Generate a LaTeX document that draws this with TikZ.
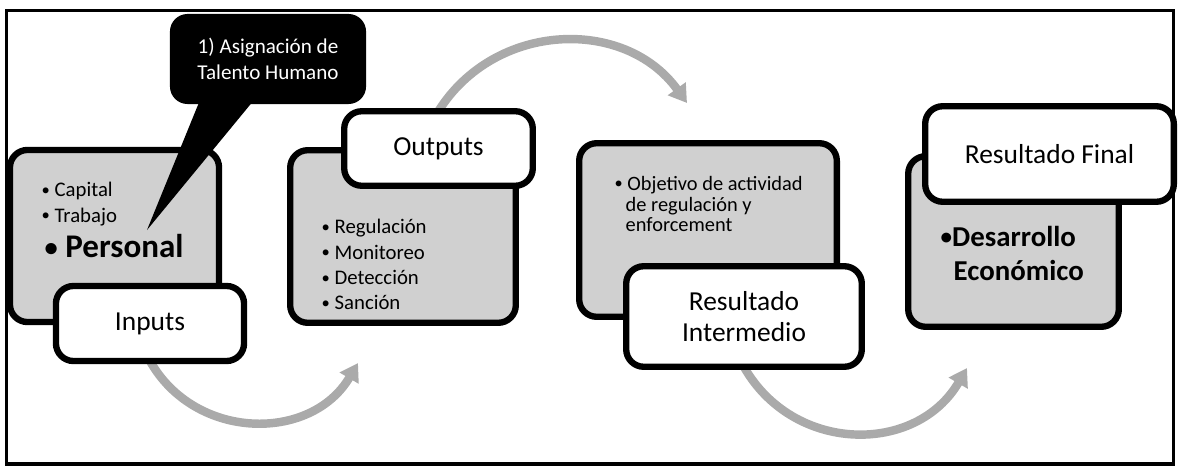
\documentclass[tikz,border=0pt]{standalone}
\usepackage{fontspec}
\setmainfont{Carlito}
\usetikzlibrary{arrows.meta}
\definecolor{boxgray}{RGB}{208,208,208}
\definecolor{arrowgray}{RGB}{170,170,170}
\newcommand{\bulletdot}{{\raisebox{0.06em}{\scalebox{0.8}{\textbullet}}}}
\begin{document}
\begin{tikzpicture}[x=0.01cm, y=-0.01cm,
    graybox/.style={draw, line width=1.8pt, rounded corners=5pt, fill=boxgray, inner sep=0},
    whitebox/.style={draw, line width=1.8pt, rounded corners=5pt, fill=white, align=center, inner sep=0, font=\fontsize{7.8}{9}\selectfont},
    item/.style={anchor=base west, inner sep=0, font=\fontsize{5.9}{7}\selectfont},
    bigitem/.style={anchor=base west, inner sep=0, font=\fontsize{8.2}{9}\selectfont\bfseries},
    flow/.style={color=arrowgray, line width=2.4pt, -{Triangle[width=6pt,length=5pt]}},
    callout/.style={fill=black, text=white, rounded corners=5pt, align=center, inner sep=0, font=\fontsize{6}{7.4}\selectfont}]
    \useasboundingbox (0, 0) rectangle (1188, 476);
    \draw[line width=1.1pt] (6.5, 10.5) rectangle (1173.5, 464);

    \coordinate (start1) at (150, 361);
    \coordinate (start2) at (438.5, 111);
    \coordinate (start3) at (744, 367);
    \coordinate (tip1) at (358, 363);
    \coordinate (tip2) at (687, 103);
    \coordinate (tip3) at (967, 368);

    % gray arrows between the stages, under the boxes
    \draw[flow] (start1) to[bend right=60, looseness=1.13] (tip1);
    \draw[flow] (start2) to[bend left=56, looseness=1.09] (tip2);
    \draw[flow] (start3) to[bend right=60, looseness=1.15] (tip3);

    \node[graybox, minimum width=2.09cm, minimum height=1.72cm] (inbox) at (114.5, 236) {};
    \node[graybox, minimum width=2.255cm, minimum height=1.725cm] (outbox) at (403, 236.5) {};
    \node[graybox, minimum width=2.575cm, minimum height=1.735cm] (midbox) at (708, 230) {};
    \node[graybox, minimum width=2.105cm, minimum height=1.705cm] (finbox) at (1013.5, 241.5) {};

    \node[whitebox, minimum width=1.88cm, minimum height=0.75cm] (inputs) at (150, 323.5) {Inputs};
    \node[whitebox, minimum width=1.885cm, minimum height=0.745cm] (outputs) at (438.5, 148.5) {Outputs};
    \node[whitebox, minimum width=2.355cm, minimum height=1.005cm] (intermedio) at (744, 316.5) {Resultado\\Intermedio};
    \node[whitebox, minimum width=2.485cm, minimum height=0.955cm] (final) at (1049.5, 154) {Resultado Final};

    \foreach \txt [count=\i] in {Capital, Trabajo}
      \node[item] (in\i) at (41, 172+25*\i) {\bulletdot\ \txt};
    \node[anchor=base west, inner sep=0, font=\fontsize{9.4}{10}\selectfont\bfseries] (personal) at (44, 258) {\bulletdot\ Personal};

    \foreach \txt [count=\i] in {Regulación, Monitoreo, Detección, Sanción}
      \node[item] (out\i) at (321, 208.5+25.3*\i) {\bulletdot\ \txt};

    \node[item, font=\fontsize{5.8}{7}\selectfont] (obj1) at (614, 190) {\bulletdot\ Objetivo de actividad};
    \node[item, font=\fontsize{5.8}{7}\selectfont] (obj2) at (625, 211.7) {de regulación y};
    \node[item, font=\fontsize{5.8}{7}\selectfont] (obj3) at (625, 231.7) {enforcement};

    \node[bigitem] (desarrollo) at (940, 246.7) {\bulletdot Desarrollo};
    \node[bigitem] (economico) at (953, 280) {Económico};

    \node[callout, minimum width=1.96cm, minimum height=0.9cm] (talento) at (268, 59) {1) Asignación de\\Talento Humano};
    \coordinate (pointer) at (147, 230);
    \fill (200, 100) -- (pointer) -- (254, 100) -- cycle;
\end{tikzpicture}
\end{document}
